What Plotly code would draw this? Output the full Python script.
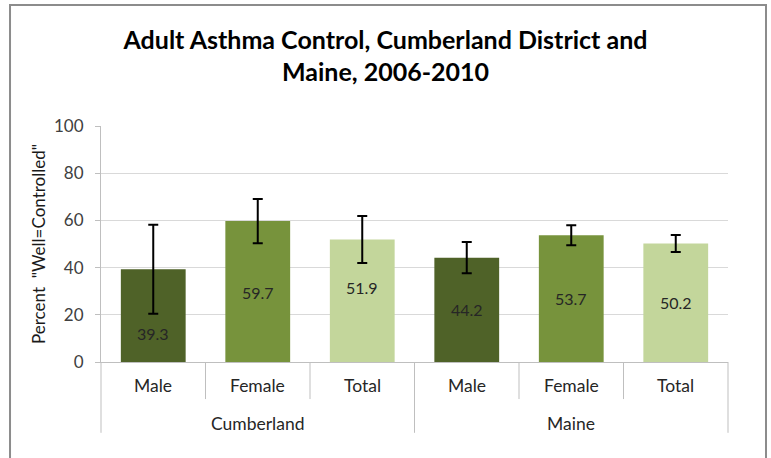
import plotly.graph_objects as go

regions = ["Cumberland", "Cumberland", "Cumberland", "Maine", "Maine", "Maine"]
groups = ["Male", "Female", "Total", "Male", "Female", "Total"]
values = [39.3, 59.7, 51.9, 44.2, 53.7, 50.2]
errors = [18.9, 9.4, 10.0, 6.6, 4.2, 3.6]
colors = ["#4F6228", "#77933C", "#C3D69B", "#4F6228", "#77933C", "#C3D69B"]
label_shift = [-18, -1, 13, 0, 0, 0]
y_ticks = [0, 20, 40, 60, 80, 100]
region_names = ["Cumberland", "Maine"]

FONT = "Lato"
N = len(values)

fig = go.Figure()
fig.add_trace(go.Bar(
    x=[regions, groups],
    y=values,
    marker=dict(color=colors, line=dict(width=0)),
    width=0.62,
    error_y=dict(type="data", array=errors, visible=True, color="#000000",
                 thickness=2, width=5),
    hoverinfo="skip",
))

# value labels inside bars
for i, v in enumerate(values):
    fig.add_annotation(
        x=(i + 0.5) / N, xref="paper", xanchor="center",
        y=v / 2, yref="y", yanchor="middle",
        text=f"{v:.1f}", showarrow=False,
        yshift=label_shift[i],
        font=dict(family=FONT, size=16, color="#262626"),
    )

# category labels
for i, g in enumerate(groups):
    fig.add_annotation(
        x=(i + 0.5) / N, xref="paper", xanchor="center",
        y=0, yref="paper", yanchor="middle", yshift=-23,
        text=g, showarrow=False,
        font=dict(family=FONT, size=17.5, color="#262626"),
    )
# region labels
for j, r in enumerate(region_names):
    fig.add_annotation(
        x=(j * 3 + 1.5) / N, xref="paper", xanchor="center",
        y=0, yref="paper", yanchor="middle", yshift=-61,
        text=r, showarrow=False,
        font=dict(family=FONT, size=17.5, color="#262626"),
    )

# dividers
for k in range(N + 1):
    outer = (k % 3 == 0)
    fig.add_shape(type="line", xref="paper", yref="paper",
                  x0=k / N, x1=k / N, y0=0, y1=-0.30 if outer else -0.157,
                  line=dict(color="#bfbfbf", width=1))

# y axis title
fig.add_annotation(
    x=0, xref="paper", xanchor="center", xshift=-63,
    y=0.5, yref="paper", yanchor="middle",
    text='Percent  "Well=Controlled"', textangle=-90, showarrow=False,
    font=dict(family=FONT, size=17, color="#1a1a1a"),
)

# outer chart border
fig.add_shape(type="rect", xref="paper", yref="paper",
              x0=-0.1451, x1=1.0606, y0=-0.45, y1=1.5127,
              line=dict(color="#8c8c8c", width=2), fillcolor="rgba(0,0,0,0)",
              layer="below")

fig.update_layout(
    width=771, height=458,
    margin=dict(l=101, r=43, t=126, b=96, autoexpand=False),
    paper_bgcolor="white", plot_bgcolor="white",
    showlegend=False,
    title=dict(
        text="<b>Adult Asthma Control, Cumberland District and<br>Maine, 2006-2010</b>",
        x=0.5, xref="container", xanchor="center", y=0.894, yanchor="top",
        font=dict(family=FONT, size=25, color="#000000"),
    ),
    font=dict(family=FONT, size=16, color="#404040"),
)

fig.update_yaxes(
    range=[0, 100], tickvals=y_ticks,
    showgrid=True, gridcolor="#d9d9d9", gridwidth=1,
    showline=True, linecolor="#bfbfbf", linewidth=1,
    ticks="outside", ticklen=5, tickcolor="#bfbfbf",
    ticklabelstandoff=8,
    tickfont=dict(family=FONT, size=17, color="#404040"),
    zeroline=False,
)

fig.update_xaxes(
    type="multicategory",
    showline=True, linecolor="#bfbfbf", linewidth=1,
    ticks="", showticklabels=False, showdividers=False,
)

fig.write_html("out.html", config={"displayModeBar": False},
               post_script="document.body.style.margin='0';")
